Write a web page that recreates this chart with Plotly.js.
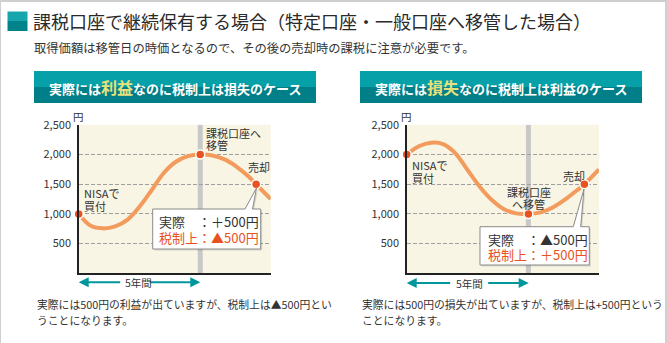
<!DOCTYPE html>
<html><head><meta charset="utf-8">
<script src="https://cdn.plot.ly/plotly-3.0.1.min.js"></script>
<style>html,body{margin:0;padding:0;background:#fff}#c{width:667px;height:343px}</style>
</head><body><div id="c"></div>
<script>
// ---- data ----
const years = [0,0.5,1,1.5,2,2.5,3,3.5,4,4.5,5,5.5,6,6.5,7,7.3,7.9];
const priceGain = [1000,800,757,790,900,1120,1400,1690,1880,1975,2000,1986,1919,1795,1626,1500,1250];
const priceLoss = [2000,2140,2200,2175,2020,1740,1460,1235,1080,1010,1000,1027,1110,1240,1400,1500,1750];
const eventYears = [0,5,7.3];
const eventGain = [1000,2000,1500];
const eventLoss = [2000,1000,1500];
const yTicks = [500,1000,1500,2000,2500];
const yTickText = ['500','1,000','1,500','2,000','2,500'];
const moveYear = 5;

const W=667,H=343;
const px=x=>x/W, py=y=>1-y/H;
const FONT='"Noto Sans CJK JP","Noto Sans",sans-serif';
const DARK='#333333', RED='#e8521e', TEAL='#00969e', CREAM='#f8f5e4';

const lineStyle={color:'#f29b5c',width:4,shape:'spline',smoothing:1};
const mk={size:9,color:RED,line:{color:'#ffffff',width:1.5}};
const traces=[
 {x:years,y:priceGain,type:'scatter',mode:'lines',line:lineStyle,xaxis:'x',yaxis:'y',hoverinfo:'skip'},
 {x:eventYears,y:eventGain,type:'scatter',mode:'markers',marker:mk,xaxis:'x',yaxis:'y',cliponaxis:false,hoverinfo:'skip'},
 {x:years,y:priceLoss,type:'scatter',mode:'lines',line:lineStyle,xaxis:'x2',yaxis:'y2',hoverinfo:'skip'},
 {x:eventYears,y:eventLoss,type:'scatter',mode:'markers',marker:mk,xaxis:'x2',yaxis:'y2',cliponaxis:false,hoverinfo:'skip'}
];

const yDom=[py(273.3),py(124.8)];
function xa(dom,anchor){return {domain:dom,anchor:anchor,range:[0,7.9],showgrid:false,zeroline:false,showline:true,linecolor:'#222',linewidth:1.5,showticklabels:false,ticks:'',fixedrange:true};}
function ya(anchor){return {domain:yDom,anchor:anchor,range:[0,2502],tickvals:yTicks,ticktext:yTickText,showgrid:true,gridcolor:'#a0a0a0',griddash:'4px,2px',gridwidth:1,zeroline:false,showline:true,linecolor:'#222',linewidth:1.5,ticks:'',ticklabelstandoff:4,tickfont:{family:FONT,size:11,color:DARK},fixedrange:true};}

function rect(x0,y0,x1,y1,fill,extra){return Object.assign({type:'rect',xref:'paper',yref:'paper',x0:px(x0),x1:px(x1),y0:py(y1),y1:py(y0),fillcolor:fill,line:{width:0},layer:'below'},extra||{});}
function pathP(pts){return 'M'+pts.map(p=>px(p[0]).toFixed(5)+','+py(p[1]).toFixed(5)).join(' L')+' Z';}
function callout(l,t,r,b,tl,tr,dx,dy){
 const pts=[[l,t],[tl,t],[dx,dy],[tr,t],[r,t],[r,b],[l,b]];
 const sh=pts.map(p=>[p[0]+1.5,p[1]+1.5]);
 return [
  {type:'path',xref:'paper',yref:'paper',path:pathP(sh),fillcolor:'rgba(0,0,0,0.12)',line:{width:0},layer:'above'},
  {type:'path',xref:'paper',yref:'paper',path:pathP(pts),fillcolor:'#ffffff',line:{color:'#8a8a8a',width:1},layer:'above'}
 ];
}

const shapes=[
 // frame
 {type:'line',xref:'paper',yref:'paper',x0:0,x1:1,y0:py(1),y1:py(1),line:{color:'#cfcfcf',width:2}},
 {type:'line',xref:'paper',yref:'paper',x0:px(0.5),x1:px(0.5),y0:0,y1:1,line:{color:'#cfcfcf',width:1}},
 {type:'line',xref:'paper',yref:'paper',x0:px(666),x1:px(666),y0:0,y1:1,line:{color:'#cfcfcf',width:2}},
 // title square
 rect(7.5,11.5,27.5,21,'#17a6ad'), rect(7.5,21,27.5,31,'#00838b'),
 // banners
 rect(34,71,316,87,'#05a0a8'), rect(34,87,316,103,'#007f88'),
 rect(360,71,642,87,'#05a0a8'), rect(360,87,642,103,'#007f88'),
 // move-date bars
 {type:'line',xref:'x',yref:'y',x0:moveYear,x1:moveYear,y0:0,y1:2502,line:{color:'#c8c8c8',width:5},layer:'below'},
 {type:'line',xref:'x2',yref:'y2',x0:moveYear,x1:moveYear,y0:0,y1:2502,line:{color:'#c8c8c8',width:5},layer:'below'},
 // label backing over right bar
 rect(524,185,534,209.5,CREAM),
 ...callout(152.7,209,260.7,249,245,252.5,256.5,188),
 ...callout(480,226.7,589.3,265,573.3,580.7,584,189)
];

function t(text,x,y,o){o=o||{};return {xref:'paper',yref:'paper',x:px(x),y:py(y),text:text,showarrow:false,xanchor:o.xa||'left',yanchor:'middle',align:o.al||'left',
 font:{family:FONT,size:o.size||11,color:o.color||DARK},borderpad:0};}
function arrow(x,y,ax){return {xref:'paper',yref:'paper',x:px(x),y:py(y),ax:ax,ay:0,text:'',showarrow:true,arrowhead:2,arrowsize:1,arrowwidth:2,arrowcolor:TEAL};}

const annotations=[
 t('課税口座で継続保有する場合（特定口座・一般口座へ移管した場合）',32,21,{size:18,color:'#2a2a2a'}),
 t('取得価額は移管日の時価となるので、その後の売却時の課税に注意が必要です。',33,48,{size:12.3}),
 t('<b>実際には<span style="color:#e6e17c;font-size:16px">利益</span>なのに税制上は損失のケース</b>',175,87,{xa:'center',size:13,color:'#ffffff'}),
 t('<b>実際には<span style="color:#e6e17c;font-size:16px">損失</span>なのに税制上は利益のケース</b>',501,87,{xa:'center',size:13,color:'#ffffff'}),
 t('円',78,116.5,{xa:'center',size:10.5}),
 t('円',406,116.5,{xa:'center',size:10.5}),
 // left chart labels
 t('NISAで',83,193,{size:11}), t('買付',83,206,{size:11}),
 t('課税口座へ',205,133.3,{size:11}), t('移管',205,145,{size:11}),
 t('売却',259.3,167.3,{xa:'center',size:11}),
 // right chart labels
 t('NISAで',410.5,165,{size:11}), t('買付',410.5,177.5,{size:11}),
 t('課税口座',528.7,192,{xa:'center',size:11}), t('へ移管',528.7,203.5,{xa:'center',size:11}),
 t('売却',574,175.7,{xa:'center',size:11}),
 // callout texts
 t('実際　：＋500円',158,221,{size:13}),
 t('税制上：▲500円',158,237,{size:13,color:RED}),
 t('実際　：▲500円',486.5,239.5,{size:13}),
 t('税制上：＋500円',486.5,254.5,{size:13,color:RED}),
 // 5-year arrows
 arrow(78.7,282.3,43), arrow(200.3,282.3,-52),
 t('5年間',138,282.3,{xa:'center',size:10.5}),
 arrow(406.7,283,45), arrow(528.7,283,-42),
 t('5年間',469.8,283,{xa:'center',size:10.5}),
 // footnotes
 t('実際には500円の利益が出ていますが、税制上は▲500円とい',36,303.5,{size:10.8}),
 t('うことになります。',36,319.5,{size:10.8}),
 t('実際には500円の損失が出ていますが、税制上は+500円という',360.5,303.5,{size:10.8}),
 t('ことになります。',360.5,319.5,{size:10.8})
];

const layout={width:W,height:H,margin:{l:0,r:0,t:0,b:0},paper_bgcolor:'#ffffff',plot_bgcolor:CREAM,showlegend:false,
 font:{family:FONT},
 xaxis:xa([78.7/W,270.7/W],'y'), yaxis:ya('x'),
 xaxis2:xa([406.7/W,599/W],'y2'), yaxis2:ya('x2'),
 shapes:shapes, annotations:annotations};
Plotly.newPlot('c',traces,layout,{staticPlot:true,displayModeBar:false});
</script></body></html>
